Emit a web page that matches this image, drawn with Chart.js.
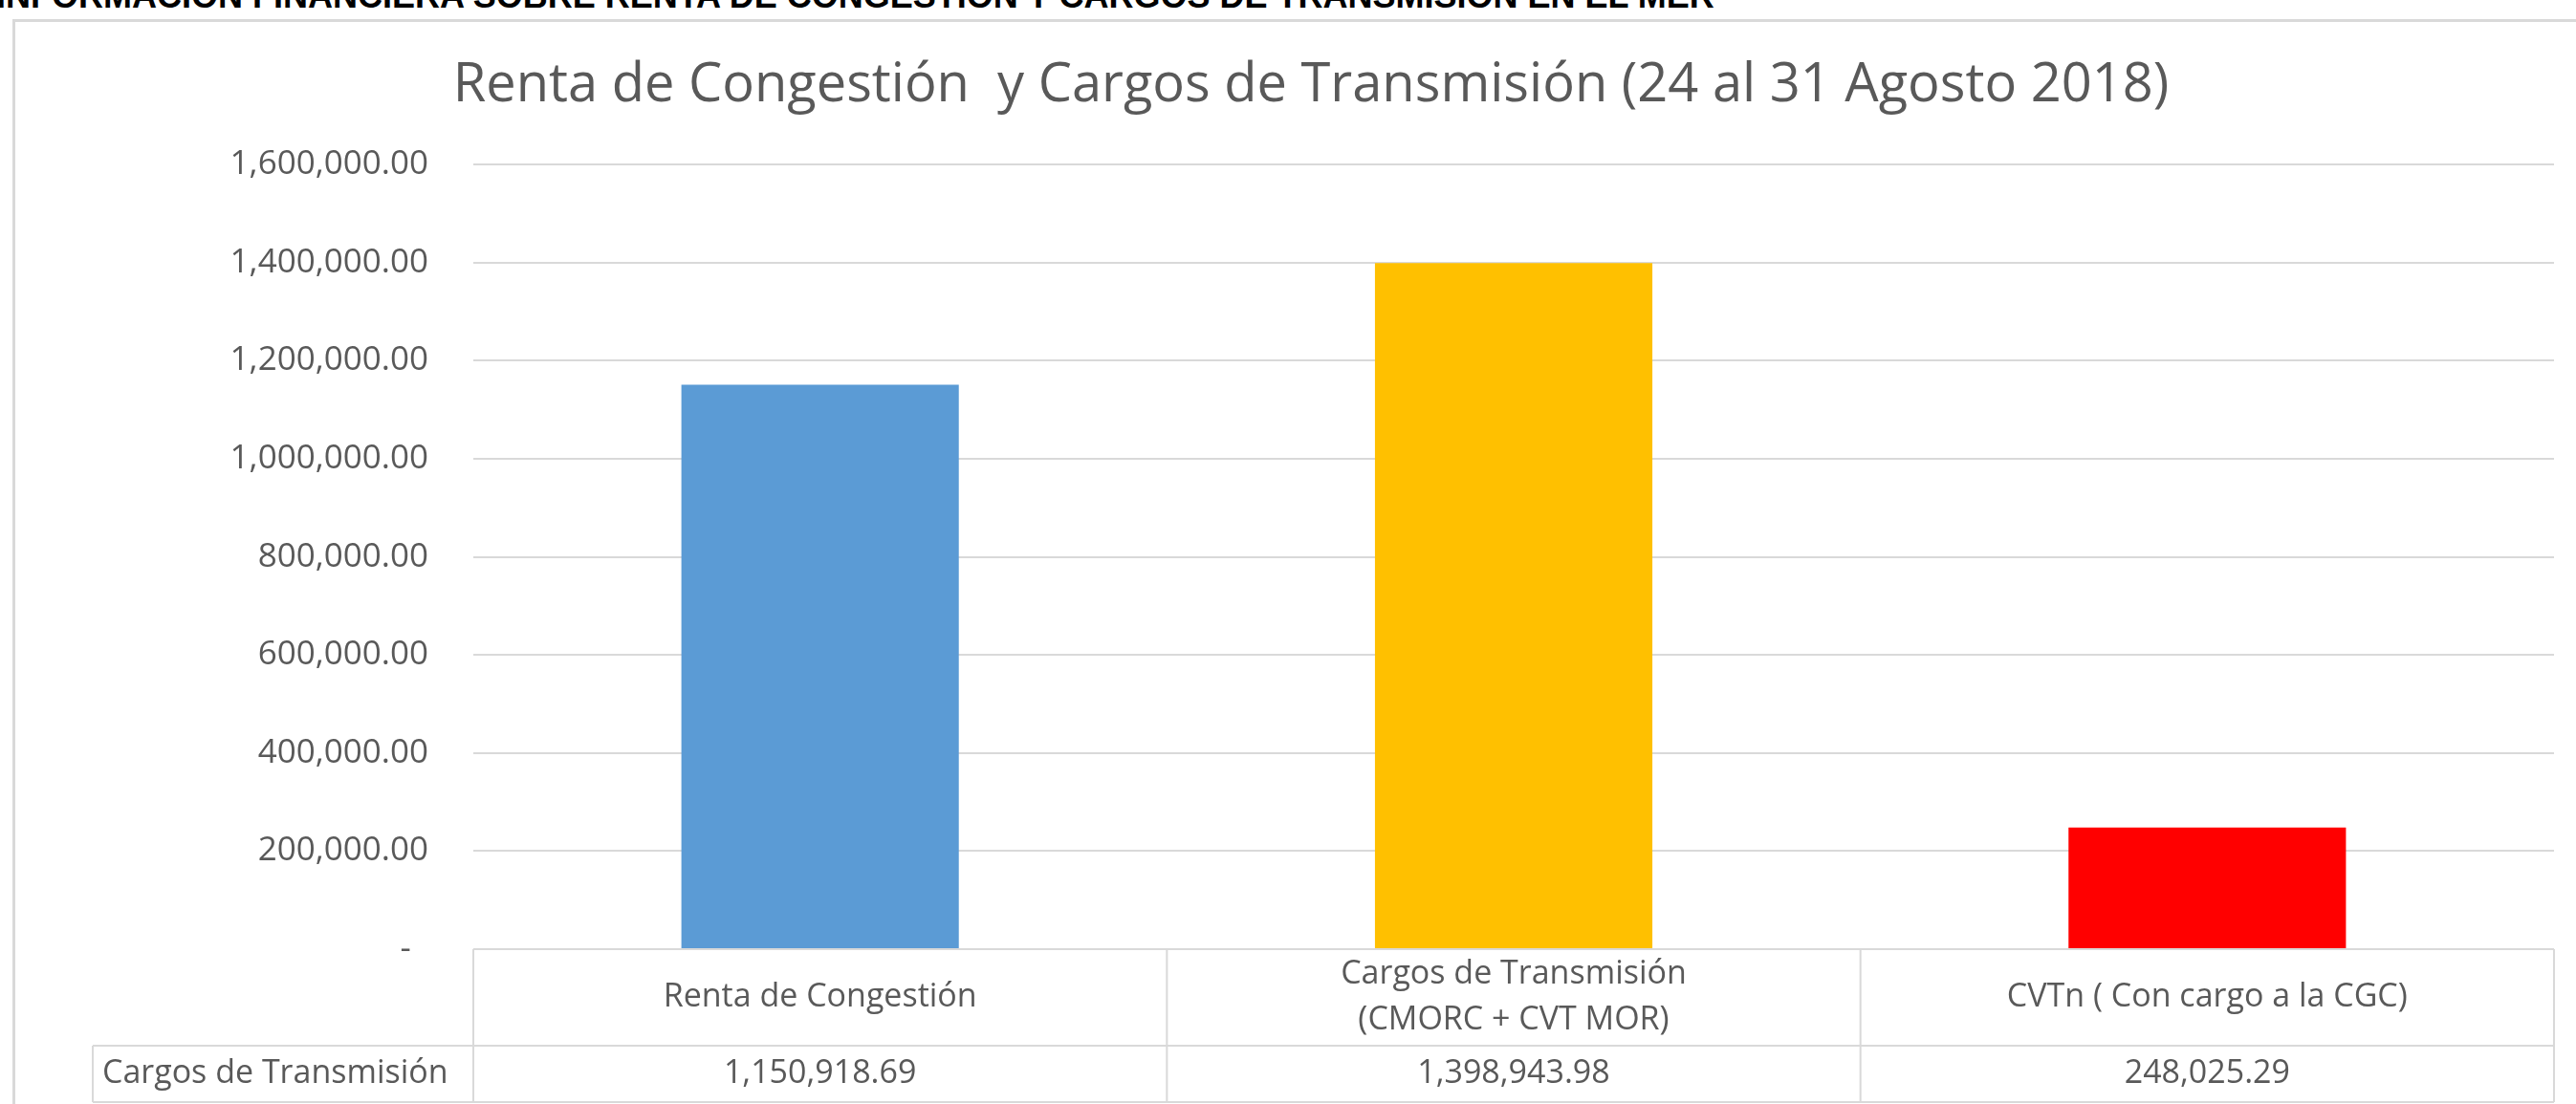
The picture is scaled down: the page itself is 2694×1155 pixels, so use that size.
<!DOCTYPE html>
<html lang="es">
<head>
<meta charset="utf-8">
<title>Renta de Congestión y Cargos de Transmisión</title>
<script src="https://cdn.jsdelivr.net/npm/chart.js@4.4.1/dist/chart.umd.min.js"></script>
<style>
  html, body { margin: 0; padding: 0; background: #ffffff; overflow: hidden; }
  .page { position: relative; width: 2694px; height: 1155px; }
  .heading {
    position: absolute; left: -4px; top: -22px; white-space: nowrap;
    font: bold 36px "Liberation Sans", Arial, sans-serif; line-height: 36px; color: #000;
  }
  .frame {
    position: absolute; left: 13px; top: 20px; width: 2700px; height: 1200px;
    border-left: 3px solid #d9d9d9; border-top: 3px solid #d9d9d9;
  }
  .chart-box { position: absolute; left: 0; top: 0; width: 2694px; height: 1155px; }
</style>
</head>
<body>
<div class="page">
  <div class="heading">INFORMACIÓN FINANCIERA SOBRE RENTA DE CONGESTIÓN Y CARGOS DE TRANSMISIÓN EN EL MER</div>
  <div class="frame"></div>
  <div class="chart-box"><canvas id="rentaChart"></canvas></div>
</div>
<script>
// datos
const categories = ['Renta de Congestión', ['Cargos de Transmisión', '(CMORC + CVT MOR)'], 'CVTn ( Con cargo a la CGC)'];
const seriesName = 'Cargos de Transmisión';
const values = [1150918.69, 1398943.98, 248025.29];
const yMin = 0;
const yMax = 1600000;
const yStep = 200000;

const barColors = ['#5B9BD5', '#FFC000', '#FF0000'];
const textGray = '#595959';
const lineGray = '#d9d9d9';
const fontFamily = "'Open Sans', 'Noto Sans', sans-serif";

function fmt(v) {
    return v.toLocaleString('en-US', { minimumFractionDigits: 2, maximumFractionDigits: 2 });
}

// tabla de datos bajo el eje X (como en Excel)
const dataTable = {
    id: 'dataTable',
    afterDraw(chart) {
        const { ctx, chartArea } = chart;
        const x = chart.scales.x;
        const labels = chart.data.labels;
        const n = labels.length;
        const colW = (chartArea.right - chartArea.left) / n;
        const top = chartArea.bottom;
        const mid = top + 101;
        const bottom = top + 160;
        const headLeft = 97;

        ctx.save();
        ctx.strokeStyle = lineGray;
        ctx.lineWidth = 2;
        ctx.beginPath();
        ctx.moveTo(chartArea.left, top); ctx.lineTo(chartArea.right, top);
        ctx.moveTo(headLeft, mid); ctx.lineTo(chartArea.right, mid);
        ctx.moveTo(headLeft, bottom); ctx.lineTo(chartArea.right, bottom);
        ctx.moveTo(headLeft, mid); ctx.lineTo(headLeft, bottom);
        for (let i = 0; i <= n; i++) {
            const bx = chartArea.left + i * colW;
            ctx.moveTo(bx, top); ctx.lineTo(bx, bottom);
        }
        ctx.stroke();

        ctx.fillStyle = textGray;
        ctx.font = '34px ' + fontFamily;
        ctx.textBaseline = 'middle';
        ctx.textAlign = 'center';
        labels.forEach((lab, i) => {
            const cx = x.getPixelForValue(i);
            const lines = Array.isArray(lab) ? lab : [lab];
            const cy = (top + mid) / 2;
            lines.forEach((ln, k) => {
                ctx.fillText(ln, cx, cy + (k - (lines.length - 1) / 2) * 48);
            });
            ctx.fillText(fmt(chart.data.datasets[0].data[i]), cx, (mid + bottom) / 2);
        });
        ctx.textAlign = 'left';
        ctx.fillText(chart.data.datasets[0].label, headLeft + 10, (mid + bottom) / 2);
        ctx.restore();
    }
};

document.addEventListener('DOMContentLoaded', function () {
    const ctx = document.getElementById('rentaChart').getContext('2d');

    new Chart(ctx, {
        type: 'bar',
        data: {
            labels: categories,
            datasets: [{
                label: seriesName,
                data: values,
                backgroundColor: barColors,
                borderWidth: 0,
                categoryPercentage: 1,
                barPercentage: 0.4
            }]
        },
        options: {
            responsive: true,
            maintainAspectRatio: false,
            animation: false,
            layout: { padding: { left: 71, right: 23, top: 0, bottom: 0 } },
            plugins: {
                legend: { display: false },
                tooltip: { enabled: false },
                title: {
                    display: true,
                    text: 'Renta de Congestión  y Cargos de Transmisión (24 al 31 Agosto 2018)',
                    color: textGray,
                    font: { family: fontFamily, size: 56, weight: 'normal' },
                    padding: { top: 56, bottom: 49 }
                }
            },
            scales: {
                x: {
                    grid: { display: false },
                    border: { display: false },
                    ticks: { display: false },
                    afterFit(scale) { scale.height = 162; }
                },
                y: {
                    min: yMin,
                    max: yMax,
                    border: { display: false },
                    grid: { color: lineGray, lineWidth: 2, drawTicks: false },
                    ticks: {
                        stepSize: yStep,
                        padding: 47,
                        color: textGray,
                        font: { family: fontFamily, size: 35 },
                        callback: (v) => v === 0 ? '-  ' : fmt(v)
                    },
                    afterFit(scale) { scale.width = 424; }
                }
            }
        },
        plugins: [dataTable]
    });
});
</script>
</body>
</html>
